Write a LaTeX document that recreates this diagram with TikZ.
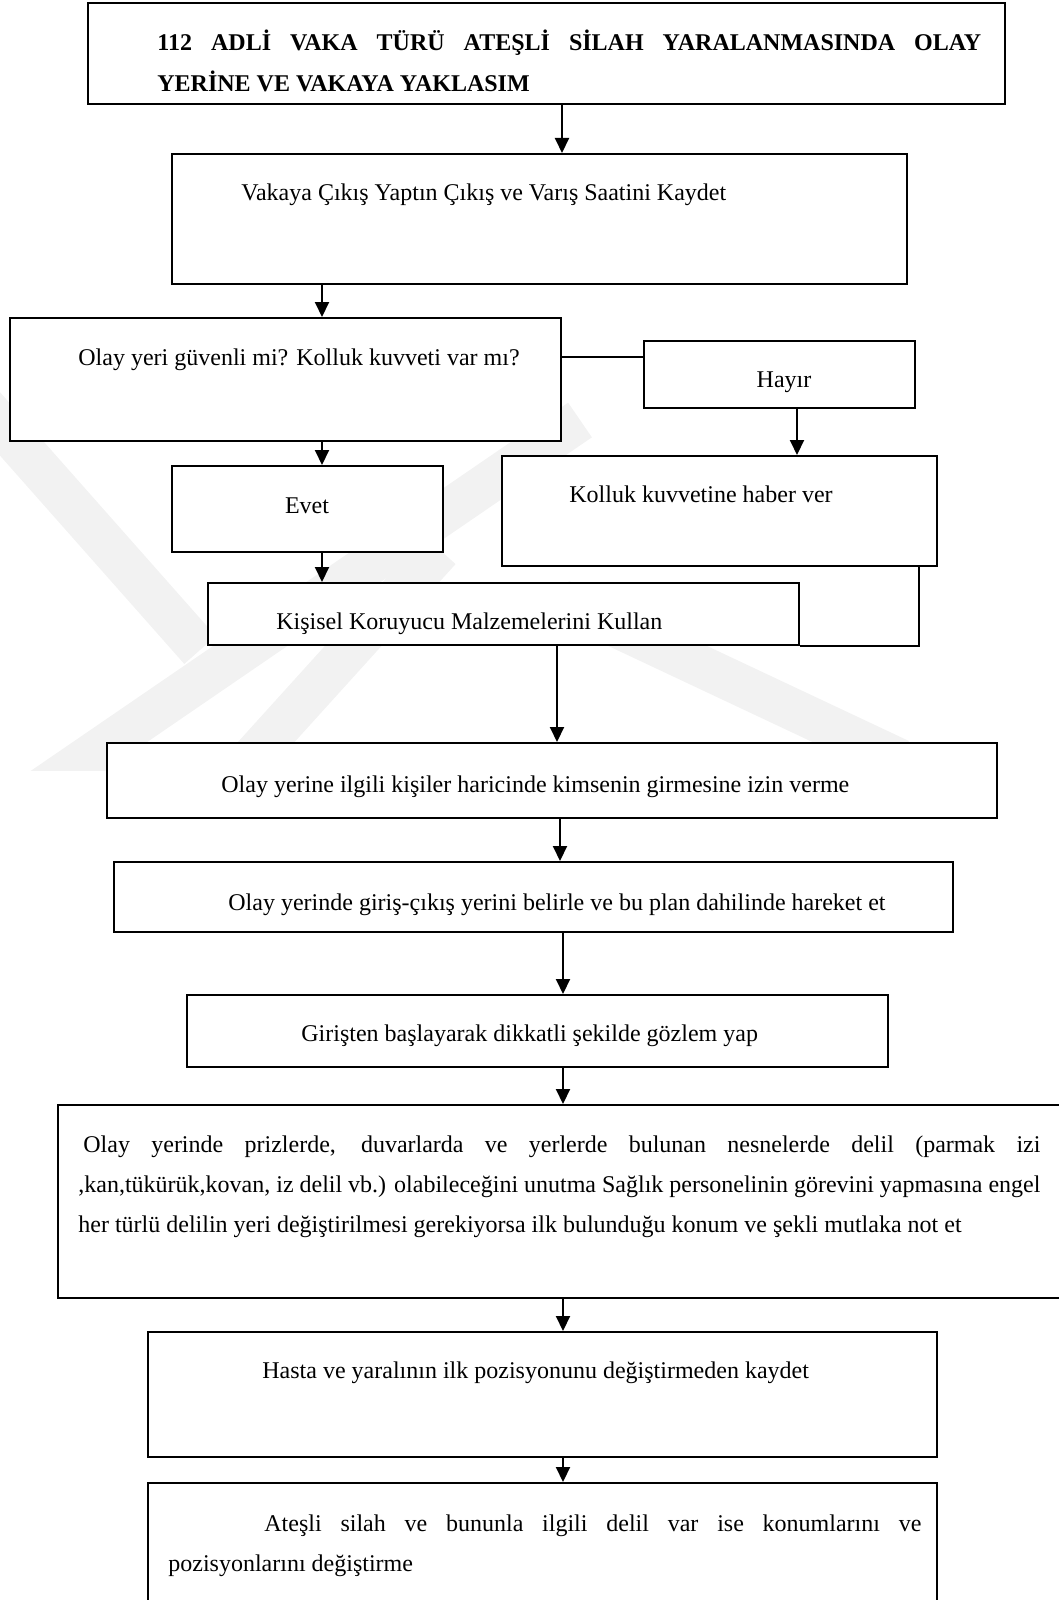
\documentclass[tikz,border=0pt]{standalone}
\usepackage{fontspec}
\setmainfont{Liberation Serif}
\usepackage{tikz}
\usetikzlibrary{arrows.meta}
\tikzset{
  ar/.style={-{Triangle[length=7.5pt,width=7pt]},line width=1pt},
  hat/.style={line width=1pt},
  kutu/.style={draw,line width=1.1pt,fill=white,anchor=north west,inner sep=0pt},
  yazi/.style={inner sep=0pt,anchor=base west,font=\fontsize{12}{14}\selectfont},
  kalin/.style={yazi,font=\fontsize{12}{14}\selectfont\bfseries},
  iz/.style={black!5,line width=21pt}
}

\begin{document}
\begin{tikzpicture}[x=0.5pt,y=-0.5pt]
\useasboundingbox (0,0) rectangle (1059,1600);
% soluk filigran
\begin{scope}
\clip (0,300) rectangle (1059,770);
\draw[iz] (-30,390) -- (200,650);
\draw[iz] (40,790) -- (580,420);
\draw[iz] (250,760) -- (440,550);
\draw[iz] (560,600) -- (900,760);
\end{scope}
% kutular
\node[kutu,minimum width=458.5pt,minimum height=50.5pt] (baslik) at (87,2) {};
\node[kutu,minimum width=367.5pt,minimum height=65pt] (cikis) at (171,153) {};
\node[kutu,minimum width=275.5pt,minimum height=61.5pt] (guvenli) at (9,317) {};
\node[kutu,minimum width=135.5pt,minimum height=33.5pt] (hayir) at (643,340) {};
\node[kutu,minimum width=217.5pt,minimum height=55pt] (kolluk) at (501,455) {};
\node[kutu,minimum width=135.5pt,minimum height=43pt] (evet) at (171,465) {};
\node[kutu,minimum width=295.5pt,minimum height=31pt] (kkd) at (207,582) {};
\node[kutu,minimum width=445pt,minimum height=37.5pt] (izin) at (106,742) {};
\node[kutu,minimum width=419.5pt,minimum height=35pt] (belirle) at (113,861) {};
\node[kutu,minimum width=350.5pt,minimum height=36pt] (gozlem) at (186,994) {};
\node[kutu,minimum width=509pt,minimum height=96.5pt] (delil) at (57,1104) {};
\node[kutu,minimum width=394.5pt,minimum height=62.5pt] (hasta) at (147,1331) {};
\node[kutu,minimum width=394.5pt,minimum height=79pt] (silah) at (147,1482) {};
% yazilar
\node[kalin] (b1) at (157,51) {\makebox[412pt][s]{112 ADLİ VAKA TÜRÜ ATEŞLİ SİLAH YARALANMASINDA OLAY}};
\node[kalin] (b2) at (157,92) {YERİNE VE VAKAYA YAKLASIM};
\node[yazi] (t1) at (241,200) {Vakaya Çıkış Yaptın Çıkış ve Varış Saatini Kaydet};
\node[yazi] (t2) at (78,365) {Olay yeri güvenli mi? Kolluk kuvveti var mı?};
\node[yazi,anchor=base] (t3) at (784,387) {Hayır};
\node[yazi] (t4) at (569,502) {Kolluk kuvvetine haber ver};
\node[yazi,anchor=base] (t5) at (307,513) {Evet};
\node[yazi] (t6) at (276,629) {Kişisel Koruyucu Malzemelerini Kullan};
\node[yazi] (t7) at (221,792) {Olay yerine ilgili kişiler haricinde kimsenin girmesine izin verme};
\node[yazi] (t8) at (228,910) {Olay yerinde giriş-çıkış yerini belirle ve bu plan dahilinde hareket et};
\node[yazi] (t9) at (301,1041) {Girişten başlayarak dikkatli şekilde gözlem yap};
\node[yazi] (d1) at (83,1152) {\makebox[478.5pt][s]{Olay yerinde prizlerde, duvarlarda ve yerlerde bulunan nesnelerde delil (parmak izi}};
\node[yazi] (d2) at (78,1192) {\makebox[481pt][s]{,kan,tükürük,kovan, iz delil vb.) olabileceğini unutma Sağlık personelinin görevini yapmasına engel}};
\node[yazi] (d3) at (78,1232) {her türlü delilin yeri değiştirilmesi gerekiyorsa ilk bulunduğu konum ve şekli mutlaka not et};
\node[yazi] (t10) at (262,1378) {Hasta ve yaralının ilk pozisyonunu değiştirmeden kaydet};
\node[yazi] (s1) at (264,1531) {\makebox[328.5pt][s]{Ateşli silah ve bununla ilgili delil var ise konumlarını ve}};
\node[yazi] (s2) at (168,1571) {pozisyonlarını değiştirme};
% baglantilar
\draw[ar] (baslik.south -| 562,0) -- (cikis.north -| 562,0);
\draw[ar] (cikis.south -| 322,0) -- (guvenli.north -| 322,0);
\draw[hat] (guvenli.east |- 0,357) -- (hayir.west |- 0,357);
\draw[ar] (hayir.south -| 797,0) -- (kolluk.north -| 797,0);
\draw[ar] (guvenli.south -| 322,0) -- (evet.north -| 322,0);
\draw[ar] (evet.south -| 322,0) -- (kkd.north -| 322,0);
\draw[hat] (kolluk.south -| 919,0) |- (kkd.south east);
\draw[ar] (kkd.south -| 557,0) -- (izin.north -| 557,0);
\draw[ar] (izin.south -| 560,0) -- (belirle.north -| 560,0);
\draw[ar] (belirle.south -| 563,0) -- (gozlem.north -| 563,0);
\draw[ar] (gozlem.south -| 563,0) -- (delil.north -| 563,0);
\draw[ar] (delil.south -| 563,0) -- (hasta.north -| 563,0);
\draw[ar] (hasta.south -| 563,0) -- (silah.north -| 563,0);
\end{tikzpicture}
\end{document}
